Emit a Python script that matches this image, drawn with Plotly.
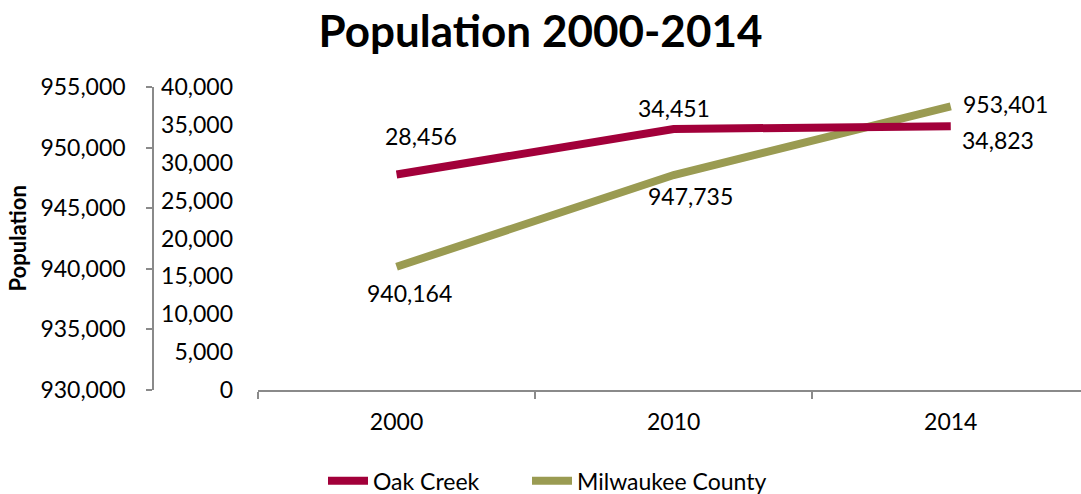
import plotly.graph_objects as go

# Census counts by year
years = ["2000", "2010", "2014"]
oak_creek = [28456, 34451, 34823]
milwaukee_county = [940164, 947735, 953401]

W, H = 1081, 494
FONT = "Lato, 'Open Sans', Arial, sans-serif"
RED = "#A2003A"
OLIVE = "#9A9B52"
AXIS = "#8A8A8A"

fig = go.Figure()

fig.add_trace(go.Scatter(
    x=years, y=oak_creek, name="Oak Creek", mode="lines",
    line=dict(color=RED, width=8), yaxis="y2", legend="legend",
))
fig.add_trace(go.Scatter(
    x=years, y=milwaukee_county, name="Milwaukee County", mode="lines",
    line=dict(color=OLIVE, width=8), yaxis="y", legend="legend2",
))

# value labels: (x shift, y shift) in pixels per point; x is the category index
oak_shift = [(24, 38), (0, 21), (47, -14)]
mil_shift = [(13, -26), (17, -21), (55, 2)]
for i, (v, (dx, dy)) in enumerate(zip(oak_creek, oak_shift)):
    fig.add_annotation(x=i, y=v, xref="x", yref="y2", text=f"{v:,}",
                       showarrow=False, xshift=dx, yshift=dy,
                       font=dict(family=FONT, size=23, color="#000"))
for i, (v, (dx, dy)) in enumerate(zip(milwaukee_county, mil_shift)):
    fig.add_annotation(x=i, y=v, xref="x", yref="y", text=f"{v:,}",
                       showarrow=False, xshift=dx, yshift=dy,
                       font=dict(family=FONT, size=23, color="#000"))

# rotated y-axis title
fig.add_annotation(x=17 / W, y=0.5, xref="paper", yref="paper",
                   xanchor="center", yanchor="middle",
                   text="<b>Population</b>", textangle=-90, showarrow=False,
                   font=dict(family=FONT, size=22, color="#000"))

legend_style = dict(orientation="h", xanchor="left", yanchor="middle",
                    y=-0.30, font=dict(family=FONT, size=23, color="#000"),
                    bgcolor="rgba(0,0,0,0)", itemwidth=40)

fig.update_layout(
    width=W, height=H,
    margin=dict(l=0, r=0, t=87, b=104, autoexpand=False),
    paper_bgcolor="white", plot_bgcolor="white",
    font=dict(family=FONT, size=23, color="#000"),
    title=dict(text="<b>Population 2000-2014</b>", x=0.5, xanchor="center",
               y=1 - 32 / H, yanchor="middle", yref="container",
               font=dict(family=FONT, size=44, color="#000")),
    xaxis=dict(
        domain=[258 / W, 1], type="category", range=[-0.5, 2.47],
        showline=True, linecolor=AXIS, linewidth=1.5,
        ticks="outside", ticklen=7, tickcolor=AXIS, tickwidth=1.5,
        tickson="boundaries", showgrid=False, zeroline=False,
        ticklabelstandoff=11,
    ),
    yaxis=dict(
        range=[930000, 955000], dtick=5000, tickformat=",d",
        anchor="free", position=153 / W, side="left",
        showline=True, linecolor=AXIS, linewidth=1.5,
        ticks="outside", ticklen=6, tickcolor=AXIS, tickwidth=1.5,
        showgrid=False, zeroline=False, ticklabelstandoff=16,
    ),
    yaxis2=dict(
        range=[0, 40000], dtick=5000, tickformat=",d",
        overlaying="y", anchor="free", position=233 / W, side="left",
        showline=False, ticks="", showgrid=False, zeroline=False,
    ),
    showlegend=True,
    legend=dict(x=323 / W, **legend_style),
    legend2=dict(x=527 / W, **legend_style),
)

fig.write_html("out.html")
